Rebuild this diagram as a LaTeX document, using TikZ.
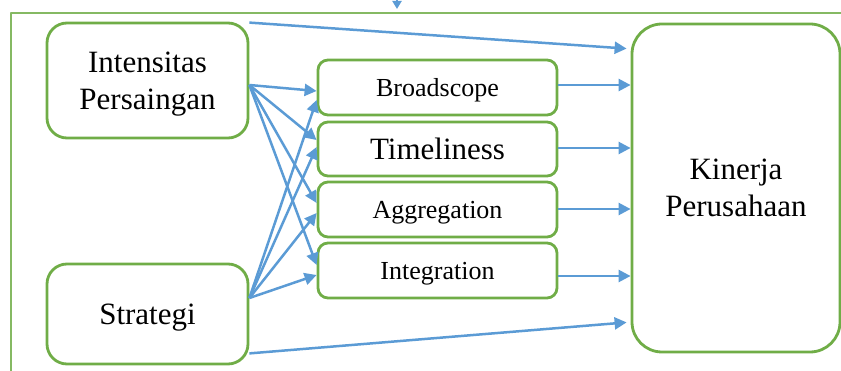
\documentclass[tikz,border=0pt]{standalone}
\usepackage{fontspec}
\setmainfont{Liberation Serif}
\usepackage{tikz}
\usetikzlibrary{calc}
\usetikzlibrary{arrows.meta}
\definecolor{boxgreen}{RGB}{112,173,71}
\definecolor{arrblue}{RGB}{91,155,213}
\tikzset{
  varbox/.style={draw=boxgreen,line width=2.8pt,fill=white,rounded corners=20pt,align=center,
    text height=20.5pt,text depth=0pt,font=\fontsize{31}{37}\selectfont},
  twolines/.style={text height=57.5pt},
  dimbox/.style={draw=boxgreen,line width=2.8pt,fill=white,rounded corners=10pt,
    minimum width=239pt,minimum height=55pt,inner sep=0pt,
    text height=17.2pt,text depth=0pt,font=\fontsize{26}{31}\selectfont},
  arr/.style={draw=arrblue,line width=2.5pt,-{Triangle[length=12pt,width=12pt]}},
  frame/.style={draw=boxgreen!85,line width=1.8pt}
}
\begin{document}
\begin{tikzpicture}[x=1pt,y=-1pt,line join=round]
\useasboundingbox (0,0) rectangle (841,371);
\draw [frame] (841,13) -- (11,13) -- (11,371);
\coordinate (wmtop) at (397,-4);
\coordinate (wmtip) at (397,9);
\draw [arr,-{Triangle[length=8pt,width=9pt]}] (wmtop) -- (wmtip);
\node [varbox,twolines,minimum width=201pt,minimum height=115pt] (int) at (147.5,80.5) {Intensitas\\Persaingan};
\node [varbox,minimum width=201pt,minimum height=100pt] (str) at (147.5,314) {Strategi};
\node [dimbox] (brd) at (437.5,87.5) {Broadscope};
\node [dimbox,minimum height=54pt,text height=20.5pt,text depth=-4pt,font=\fontsize{31}{37}\selectfont] (tim) at (437.5,149) {Timeliness};
\node [dimbox] (agg) at (437.5,209.5) {Aggregation};
\node [dimbox] (igr) at (437.5,270.5) {Integration};
\node [varbox,twolines,rounded corners=30pt,minimum width=208pt,minimum height=328pt] (kin) at (736,188) {Kinerja\\Perusahaan};
% intensitas persaingan
\draw [arr] ($(int.north east)+(0,1)$) -- ($(kin.north west)+(-4,26)$);
\draw [arr] ($(int.east)+(0,4.5)$) -- ($(brd.west)+(0,3.5)$);
\draw [arr] ($(int.east)+(0,4.5)$) -- ($(tim.west)+(0,-9)$);
\draw [arr] ($(int.east)+(0,4.5)$) -- ($(agg.west)+(0,-6.5)$);
\draw [arr] ($(int.east)+(0,4.5)$) -- ($(igr.west)+(0,-5.5)$);
% strategi
\draw [arr] ($(str.east)+(0,-16)$) -- ($(brd.west)+(0,12.5)$);
\draw [arr] ($(str.east)+(0,-16)$) -- ($(tim.west)+(0,-2)$);
\draw [arr] ($(str.east)+(0,-16)$) -- ($(agg.west)+(0,3.5)$);
\draw [arr] ($(str.east)+(0,-16)$) -- ($(igr.west)+(0,4.5)$);
\draw [arr] ($(str.south east)+(0,-12)$) -- ($(kin.south west)+(-4,-31)$);
% dimensi ke kinerja
\coordinate (brdout) at ($(brd.east)+(0,-2.5)$);
\coordinate (timout) at ($(tim.east)+(0,-1)$);
\coordinate (aggout) at ($(agg.east)+(0,-0.5)$);
\coordinate (igrout) at ($(igr.east)+(0,5.5)$);
\draw [arr] (brdout) -- (brdout -| kin.west);
\draw [arr] (timout) -- (timout -| kin.west);
\draw [arr] (aggout) -- (aggout -| kin.west);
\draw [arr] (igrout) -- (igrout -| kin.west);
\end{tikzpicture}
\end{document}
